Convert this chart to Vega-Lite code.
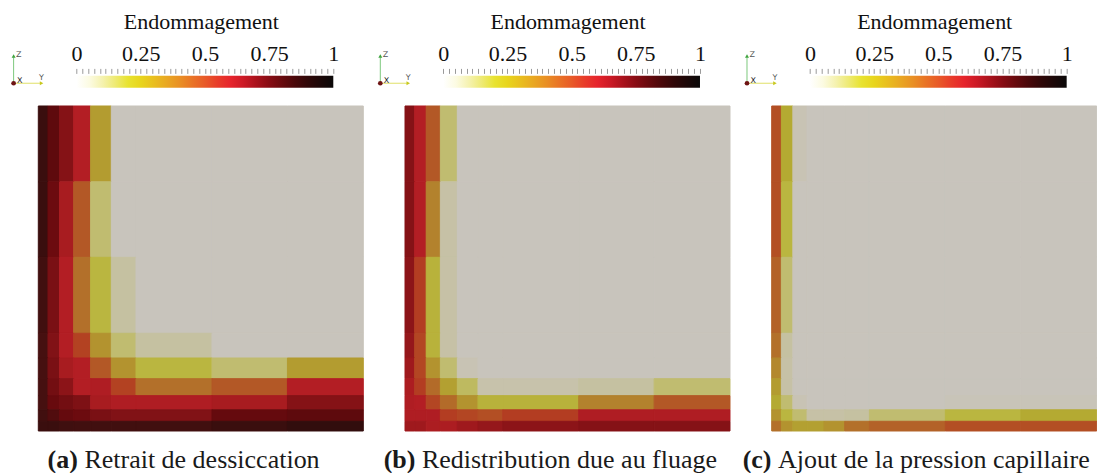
{
"$schema": "https://vega.github.io/schema/vega-lite/v6.json",
"padding": {"left": 10.3, "top": 10.7, "right": 0, "bottom": 0},
"background": "white",
"config": {"view": {"stroke": null}},
"datasets": {
"mesh": [{"k":1,"lo":0,"hi":1.49},{"k":2,"lo":1.49,"hi":3.26},{"k":3,"lo":3.26,"hi":5.44},{"k":4,"lo":5.44,"hi":8.05},{"k":5,"lo":8.05,"hi":11.23},{"k":6,"lo":11.23,"hi":15.03},{"k":7,"lo":15.03,"hi":26.72},{"k":8,"lo":26.72,"hi":38.33},{"k":9,"lo":38.33,"hi":50}],
"bar": [{"lo":0,"hi":1}],
"cells": [
{"p":"a","i":1,"j":9,"d":0.95},{"p":"a","i":2,"j":9,"d":0.83},{"p":"a","i":3,"j":9,"d":0.72},{"p":"a","i":4,"j":9,"d":0.58},{"p":"a","i":5,"j":9,"d":0.27},{"p":"a","i":6,"j":9,"d":0},{"p":"a","i":7,"j":9,"d":0},{"p":"a","i":8,"j":9,"d":0},{"p":"a","i":9,"j":9,"d":0},
{"p":"a","i":1,"j":8,"d":0.95},{"p":"a","i":2,"j":8,"d":0.79},{"p":"a","i":3,"j":8,"d":0.64},{"p":"a","i":4,"j":8,"d":0.40},{"p":"a","i":5,"j":8,"d":0.14},{"p":"a","i":6,"j":8,"d":0},{"p":"a","i":7,"j":8,"d":0},{"p":"a","i":8,"j":8,"d":0},{"p":"a","i":9,"j":8,"d":0},
{"p":"a","i":1,"j":7,"d":0.92},{"p":"a","i":2,"j":7,"d":0.75},{"p":"a","i":3,"j":7,"d":0.58},{"p":"a","i":4,"j":7,"d":0.35},{"p":"a","i":5,"j":7,"d":0.20},{"p":"a","i":6,"j":7,"d":0.06},{"p":"a","i":7,"j":7,"d":0},{"p":"a","i":8,"j":7,"d":0},{"p":"a","i":9,"j":7,"d":0},
{"p":"a","i":1,"j":6,"d":0.90},{"p":"a","i":2,"j":6,"d":0.73},{"p":"a","i":3,"j":6,"d":0.58},{"p":"a","i":4,"j":6,"d":0.45},{"p":"a","i":5,"j":6,"d":0.29},{"p":"a","i":6,"j":6,"d":0.14},{"p":"a","i":7,"j":6,"d":0.06},{"p":"a","i":8,"j":6,"d":0},{"p":"a","i":9,"j":6,"d":0},
{"p":"a","i":1,"j":5,"d":0.90},{"p":"a","i":2,"j":5,"d":0.75},{"p":"a","i":3,"j":5,"d":0.64},{"p":"a","i":4,"j":5,"d":0.58},{"p":"a","i":5,"j":5,"d":0.40},{"p":"a","i":6,"j":5,"d":0.29},{"p":"a","i":7,"j":5,"d":0.20},{"p":"a","i":8,"j":5,"d":0.14},{"p":"a","i":9,"j":5,"d":0.27},
{"p":"a","i":1,"j":4,"d":0.90},{"p":"a","i":2,"j":4,"d":0.77},{"p":"a","i":3,"j":4,"d":0.70},{"p":"a","i":4,"j":4,"d":0.58},{"p":"a","i":5,"j":4,"d":0.60},{"p":"a","i":6,"j":4,"d":0.45},{"p":"a","i":7,"j":4,"d":0.35},{"p":"a","i":8,"j":4,"d":0.40},{"p":"a","i":9,"j":4,"d":0.58},
{"p":"a","i":1,"j":3,"d":0.90},{"p":"a","i":2,"j":3,"d":0.80},{"p":"a","i":3,"j":3,"d":0.77},{"p":"a","i":4,"j":3,"d":0.74},{"p":"a","i":5,"j":3,"d":0.64},{"p":"a","i":6,"j":3,"d":0.60},{"p":"a","i":7,"j":3,"d":0.60},{"p":"a","i":8,"j":3,"d":0.64},{"p":"a","i":9,"j":3,"d":0.72},
{"p":"a","i":1,"j":2,"d":0.92},{"p":"a","i":2,"j":2,"d":0.87},{"p":"a","i":3,"j":2,"d":0.81},{"p":"a","i":4,"j":2,"d":0.79},{"p":"a","i":5,"j":2,"d":0.75},{"p":"a","i":6,"j":2,"d":0.73},{"p":"a","i":7,"j":2,"d":0.73},{"p":"a","i":8,"j":2,"d":0.81},{"p":"a","i":9,"j":2,"d":0.83},
{"p":"a","i":1,"j":1,"d":0.95},{"p":"a","i":2,"j":1,"d":0.95},{"p":"a","i":3,"j":1,"d":0.93},{"p":"a","i":4,"j":1,"d":0.92},{"p":"a","i":5,"j":1,"d":0.92},{"p":"a","i":6,"j":1,"d":0.92},{"p":"a","i":7,"j":1,"d":0.92},{"p":"a","i":8,"j":1,"d":0.95},{"p":"a","i":9,"j":1,"d":0.98},
{"p":"b","i":1,"j":9,"d":0.72},{"p":"b","i":2,"j":9,"d":0.58},{"p":"b","i":3,"j":9,"d":0.40},{"p":"b","i":4,"j":9,"d":0.14},{"p":"b","i":5,"j":9,"d":0},{"p":"b","i":6,"j":9,"d":0},{"p":"b","i":7,"j":9,"d":0},{"p":"b","i":8,"j":9,"d":0},{"p":"b","i":9,"j":9,"d":0},
{"p":"b","i":1,"j":8,"d":0.72},{"p":"b","i":2,"j":8,"d":0.58},{"p":"b","i":3,"j":8,"d":0.32},{"p":"b","i":4,"j":8,"d":0.05},{"p":"b","i":5,"j":8,"d":0},{"p":"b","i":6,"j":8,"d":0},{"p":"b","i":7,"j":8,"d":0},{"p":"b","i":8,"j":8,"d":0},{"p":"b","i":9,"j":8,"d":0},
{"p":"b","i":1,"j":7,"d":0.70},{"p":"b","i":2,"j":7,"d":0.47},{"p":"b","i":3,"j":7,"d":0.21},{"p":"b","i":4,"j":7,"d":0.05},{"p":"b","i":5,"j":7,"d":0},{"p":"b","i":6,"j":7,"d":0},{"p":"b","i":7,"j":7,"d":0},{"p":"b","i":8,"j":7,"d":0},{"p":"b","i":9,"j":7,"d":0},
{"p":"b","i":1,"j":6,"d":0.68},{"p":"b","i":2,"j":6,"d":0.44},{"p":"b","i":3,"j":6,"d":0.21},{"p":"b","i":4,"j":6,"d":0.05},{"p":"b","i":5,"j":6,"d":0},{"p":"b","i":6,"j":6,"d":0},{"p":"b","i":7,"j":6,"d":0},{"p":"b","i":8,"j":6,"d":0},{"p":"b","i":9,"j":6,"d":0},
{"p":"b","i":1,"j":5,"d":0.66},{"p":"b","i":2,"j":5,"d":0.44},{"p":"b","i":3,"j":5,"d":0.29},{"p":"b","i":4,"j":5,"d":0.14},{"p":"b","i":5,"j":5,"d":0.02},{"p":"b","i":6,"j":5,"d":0},{"p":"b","i":7,"j":5,"d":0},{"p":"b","i":8,"j":5,"d":0},{"p":"b","i":9,"j":5,"d":0},
{"p":"b","i":1,"j":4,"d":0.62},{"p":"b","i":2,"j":4,"d":0.47},{"p":"b","i":3,"j":4,"d":0.36},{"p":"b","i":4,"j":4,"d":0.26},{"p":"b","i":5,"j":4,"d":0.16},{"p":"b","i":6,"j":4,"d":0.04},{"p":"b","i":7,"j":4,"d":0.04},{"p":"b","i":8,"j":4,"d":0.06},{"p":"b","i":9,"j":4,"d":0.14},
{"p":"b","i":1,"j":3,"d":0.60},{"p":"b","i":2,"j":3,"d":0.58},{"p":"b","i":3,"j":3,"d":0.44},{"p":"b","i":4,"j":3,"d":0.36},{"p":"b","i":5,"j":3,"d":0.29},{"p":"b","i":6,"j":3,"d":0.21},{"p":"b","i":7,"j":3,"d":0.21},{"p":"b","i":8,"j":3,"d":0.32},{"p":"b","i":9,"j":3,"d":0.40},
{"p":"b","i":1,"j":2,"d":0.60},{"p":"b","i":2,"j":2,"d":0.60},{"p":"b","i":3,"j":2,"d":0.60},{"p":"b","i":4,"j":2,"d":0.47},{"p":"b","i":5,"j":2,"d":0.44},{"p":"b","i":6,"j":2,"d":0.42},{"p":"b","i":7,"j":2,"d":0.47},{"p":"b","i":8,"j":2,"d":0.60},{"p":"b","i":9,"j":2,"d":0.60},
{"p":"b","i":1,"j":1,"d":0.66},{"p":"b","i":2,"j":1,"d":0.66},{"p":"b","i":3,"j":1,"d":0.62},{"p":"b","i":4,"j":1,"d":0.62},{"p":"b","i":5,"j":1,"d":0.66},{"p":"b","i":6,"j":1,"d":0.68},{"p":"b","i":7,"j":1,"d":0.70},{"p":"b","i":8,"j":1,"d":0.72},{"p":"b","i":9,"j":1,"d":0.72},
{"p":"c","i":1,"j":9,"d":0.42},{"p":"c","i":2,"j":9,"d":0.23},{"p":"c","i":3,"j":9,"d":0.02},{"p":"c","i":4,"j":9,"d":0},{"p":"c","i":5,"j":9,"d":0},{"p":"c","i":6,"j":9,"d":0},{"p":"c","i":7,"j":9,"d":0},{"p":"c","i":8,"j":9,"d":0},{"p":"c","i":9,"j":9,"d":0},
{"p":"c","i":1,"j":8,"d":0.42},{"p":"c","i":2,"j":8,"d":0.20},{"p":"c","i":3,"j":8,"d":0},{"p":"c","i":4,"j":8,"d":0},{"p":"c","i":5,"j":8,"d":0},{"p":"c","i":6,"j":8,"d":0},{"p":"c","i":7,"j":8,"d":0},{"p":"c","i":8,"j":8,"d":0},{"p":"c","i":9,"j":8,"d":0},
{"p":"c","i":1,"j":7,"d":0.38},{"p":"c","i":2,"j":7,"d":0.14},{"p":"c","i":3,"j":7,"d":0},{"p":"c","i":4,"j":7,"d":0},{"p":"c","i":5,"j":7,"d":0},{"p":"c","i":6,"j":7,"d":0},{"p":"c","i":7,"j":7,"d":0},{"p":"c","i":8,"j":7,"d":0},{"p":"c","i":9,"j":7,"d":0},
{"p":"c","i":1,"j":6,"d":0.35},{"p":"c","i":2,"j":6,"d":0.06},{"p":"c","i":3,"j":6,"d":0},{"p":"c","i":4,"j":6,"d":0},{"p":"c","i":5,"j":6,"d":0},{"p":"c","i":6,"j":6,"d":0},{"p":"c","i":7,"j":6,"d":0},{"p":"c","i":8,"j":6,"d":0},{"p":"c","i":9,"j":6,"d":0},
{"p":"c","i":1,"j":5,"d":0.31},{"p":"c","i":2,"j":5,"d":0.05},{"p":"c","i":3,"j":5,"d":0},{"p":"c","i":4,"j":5,"d":0},{"p":"c","i":5,"j":5,"d":0},{"p":"c","i":6,"j":5,"d":0},{"p":"c","i":7,"j":5,"d":0},{"p":"c","i":8,"j":5,"d":0},{"p":"c","i":9,"j":5,"d":0},
{"p":"c","i":1,"j":4,"d":0.27},{"p":"c","i":2,"j":4,"d":0.05},{"p":"c","i":3,"j":4,"d":0},{"p":"c","i":4,"j":4,"d":0},{"p":"c","i":5,"j":4,"d":0},{"p":"c","i":6,"j":4,"d":0},{"p":"c","i":7,"j":4,"d":0},{"p":"c","i":8,"j":4,"d":0},{"p":"c","i":9,"j":4,"d":0},
{"p":"c","i":1,"j":3,"d":0.23},{"p":"c","i":2,"j":3,"d":0.14},{"p":"c","i":3,"j":3,"d":0.02},{"p":"c","i":4,"j":3,"d":0},{"p":"c","i":5,"j":3,"d":0},{"p":"c","i":6,"j":3,"d":0},{"p":"c","i":7,"j":3,"d":0},{"p":"c","i":8,"j":3,"d":0.01},{"p":"c","i":9,"j":3,"d":0.01},
{"p":"c","i":1,"j":2,"d":0.29},{"p":"c","i":2,"j":2,"d":0.20},{"p":"c","i":3,"j":2,"d":0.14},{"p":"c","i":4,"j":2,"d":0.05},{"p":"c","i":5,"j":2,"d":0.05},{"p":"c","i":6,"j":2,"d":0.06},{"p":"c","i":7,"j":2,"d":0.14},{"p":"c","i":8,"j":2,"d":0.20},{"p":"c","i":9,"j":2,"d":0.23},
{"p":"c","i":1,"j":1,"d":0.35},{"p":"c","i":2,"j":1,"d":0.29},{"p":"c","i":3,"j":1,"d":0.26},{"p":"c","i":4,"j":1,"d":0.26},{"p":"c","i":5,"j":1,"d":0.29},{"p":"c","i":6,"j":1,"d":0.35},{"p":"c","i":7,"j":1,"d":0.38},{"p":"c","i":8,"j":1,"d":0.42},{"p":"c","i":9,"j":1,"d":0.42}
]
},
"bounds": "flush",
"columns": 3,
"spacing": {"row": 18.3, "column": 41.7},
"resolve": {"scale": {"x": "independent", "y": "independent"}},
"concat": [
{
"width": 325, "height": 12,
"data": {"name": "bar"},
"mark": {"type": "rect", "fill": {"gradient": "linear", "x1": 0, "y1": 0, "x2": 1, "y2": 0, "stops": [{"offset":0,"color":"#ffffff"},{"offset":0.05,"color":"#fcfbe2"},{"offset":0.1,"color":"#f5f2b0"},{"offset":0.15,"color":"#eeea74"},{"offset":0.2,"color":"#e8e330"},{"offset":0.25,"color":"#e8d51c"},{"offset":0.3,"color":"#e9bf1e"},{"offset":0.35,"color":"#e9a822"},{"offset":0.4,"color":"#e99024"},{"offset":0.45,"color":"#e97426"},{"offset":0.5,"color":"#e85a28"},{"offset":0.55,"color":"#e83c2a"},{"offset":0.6,"color":"#e6242c"},{"offset":0.65,"color":"#cc1a26"},{"offset":0.7,"color":"#aa121c"},{"offset":0.75,"color":"#880c14"},{"offset":0.8,"color":"#680a0e"},{"offset":0.85,"color":"#4a080a"},{"offset":0.9,"color":"#300808"},{"offset":0.95,"color":"#1c0808"},{"offset":1,"color":"#0a0808"}]}},
"encoding": {
"x": {"field": "lo", "type": "quantitative", "scale": {"domain": [-0.1492, 1.1169], "nice": false, "zero": false},
"axis": {"orient": "top", "values": [0,0.022727,0.045455,0.068182,0.090909,0.113636,0.136364,0.159091,0.181818,0.204545,0.227273,0.25,0.272727,0.295455,0.318182,0.340909,0.363636,0.386364,0.409091,0.431818,0.454545,0.477273,0.5,0.522727,0.545455,0.568182,0.590909,0.613636,0.636364,0.659091,0.681818,0.704545,0.727273,0.75,0.772727,0.795455,0.818182,0.840909,0.863636,0.886364,0.909091,0.931818,0.954545,0.977273,1],
"labelExpr": "abs(datum.value*4-round(datum.value*4))<0.001 ? format(datum.value,'~g') : ''",
"labelOverlap": false, "labelFlush": false, "labelFont": "Liberation Serif, Times New Roman, serif", "labelFontSize": 22, "labelColor": "#111111", "labelBaseline": "alphabetic", "labelPadding": 8.2,
"tickSize": 5, "tickColor": "#9a9a9a", "tickWidth": 1, "domain": false, "grid": false, "offset": 2.3,
"title": "Endommagement", "titleFont": "Liberation Serif, Times New Roman, serif", "titleFontSize": 22, "titleFontWeight": "normal", "titleColor": "#111111", "titlePadding": 13.5, "titleBaseline": "alphabetic"}},
"x2": {"field": "hi"}
}
},
{
"width": 325, "height": 12,
"data": {"name": "bar"},
"mark": {"type": "rect", "fill": {"gradient": "linear", "x1": 0, "y1": 0, "x2": 1, "y2": 0, "stops": [{"offset":0,"color":"#ffffff"},{"offset":0.05,"color":"#fcfbe2"},{"offset":0.1,"color":"#f5f2b0"},{"offset":0.15,"color":"#eeea74"},{"offset":0.2,"color":"#e8e330"},{"offset":0.25,"color":"#e8d51c"},{"offset":0.3,"color":"#e9bf1e"},{"offset":0.35,"color":"#e9a822"},{"offset":0.4,"color":"#e99024"},{"offset":0.45,"color":"#e97426"},{"offset":0.5,"color":"#e85a28"},{"offset":0.55,"color":"#e83c2a"},{"offset":0.6,"color":"#e6242c"},{"offset":0.65,"color":"#cc1a26"},{"offset":0.7,"color":"#aa121c"},{"offset":0.75,"color":"#880c14"},{"offset":0.8,"color":"#680a0e"},{"offset":0.85,"color":"#4a080a"},{"offset":0.9,"color":"#300808"},{"offset":0.95,"color":"#1c0808"},{"offset":1,"color":"#0a0808"}]}},
"encoding": {
"x": {"field": "lo", "type": "quantitative", "scale": {"domain": [-0.1492, 1.1169], "nice": false, "zero": false},
"axis": {"orient": "top", "values": [0,0.022727,0.045455,0.068182,0.090909,0.113636,0.136364,0.159091,0.181818,0.204545,0.227273,0.25,0.272727,0.295455,0.318182,0.340909,0.363636,0.386364,0.409091,0.431818,0.454545,0.477273,0.5,0.522727,0.545455,0.568182,0.590909,0.613636,0.636364,0.659091,0.681818,0.704545,0.727273,0.75,0.772727,0.795455,0.818182,0.840909,0.863636,0.886364,0.909091,0.931818,0.954545,0.977273,1],
"labelExpr": "abs(datum.value*4-round(datum.value*4))<0.001 ? format(datum.value,'~g') : ''",
"labelOverlap": false, "labelFlush": false, "labelFont": "Liberation Serif, Times New Roman, serif", "labelFontSize": 22, "labelColor": "#111111", "labelBaseline": "alphabetic", "labelPadding": 8.2,
"tickSize": 5, "tickColor": "#9a9a9a", "tickWidth": 1, "domain": false, "grid": false, "offset": 2.3,
"title": "Endommagement", "titleFont": "Liberation Serif, Times New Roman, serif", "titleFontSize": 22, "titleFontWeight": "normal", "titleColor": "#111111", "titlePadding": 13.5, "titleBaseline": "alphabetic"}},
"x2": {"field": "hi"}
}
},
{
"width": 325, "height": 12,
"data": {"name": "bar"},
"mark": {"type": "rect", "fill": {"gradient": "linear", "x1": 0, "y1": 0, "x2": 1, "y2": 0, "stops": [{"offset":0,"color":"#ffffff"},{"offset":0.05,"color":"#fcfbe2"},{"offset":0.1,"color":"#f5f2b0"},{"offset":0.15,"color":"#eeea74"},{"offset":0.2,"color":"#e8e330"},{"offset":0.25,"color":"#e8d51c"},{"offset":0.3,"color":"#e9bf1e"},{"offset":0.35,"color":"#e9a822"},{"offset":0.4,"color":"#e99024"},{"offset":0.45,"color":"#e97426"},{"offset":0.5,"color":"#e85a28"},{"offset":0.55,"color":"#e83c2a"},{"offset":0.6,"color":"#e6242c"},{"offset":0.65,"color":"#cc1a26"},{"offset":0.7,"color":"#aa121c"},{"offset":0.75,"color":"#880c14"},{"offset":0.8,"color":"#680a0e"},{"offset":0.85,"color":"#4a080a"},{"offset":0.9,"color":"#300808"},{"offset":0.95,"color":"#1c0808"},{"offset":1,"color":"#0a0808"}]}},
"encoding": {
"x": {"field": "lo", "type": "quantitative", "scale": {"domain": [-0.1492, 1.1169], "nice": false, "zero": false},
"axis": {"orient": "top", "values": [0,0.022727,0.045455,0.068182,0.090909,0.113636,0.136364,0.159091,0.181818,0.204545,0.227273,0.25,0.272727,0.295455,0.318182,0.340909,0.363636,0.386364,0.409091,0.431818,0.454545,0.477273,0.5,0.522727,0.545455,0.568182,0.590909,0.613636,0.636364,0.659091,0.681818,0.704545,0.727273,0.75,0.772727,0.795455,0.818182,0.840909,0.863636,0.886364,0.909091,0.931818,0.954545,0.977273,1],
"labelExpr": "abs(datum.value*4-round(datum.value*4))<0.001 ? format(datum.value,'~g') : ''",
"labelOverlap": false, "labelFlush": false, "labelFont": "Liberation Serif, Times New Roman, serif", "labelFontSize": 22, "labelColor": "#111111", "labelBaseline": "alphabetic", "labelPadding": 8.2,
"tickSize": 5, "tickColor": "#9a9a9a", "tickWidth": 1, "domain": false, "grid": false, "offset": 2.3,
"title": "Endommagement", "titleFont": "Liberation Serif, Times New Roman, serif", "titleFontSize": 22, "titleFontWeight": "normal", "titleColor": "#111111", "titlePadding": 13.5, "titleBaseline": "alphabetic"}},
"x2": {"field": "hi"}
}
},
{
"width": 325, "height": 325,
"data": {"name": "cells"},
"layer": [
{
"transform": [{"filter": "datum.p == 'a'"},
{"lookup": "i", "from": {"data": {"name": "mesh"}, "key": "k", "fields": ["lo", "hi"]}, "as": ["x0", "x1"]},
{"lookup": "j", "from": {"data": {"name": "mesh"}, "key": "k", "fields": ["lo", "hi"]}, "as": ["y0", "y1"]}],
"mark": {"type": "rect", "strokeWidth": 1},
"encoding": {
"x": {"field": "x0", "type": "quantitative", "scale": {"domain": [0, 50], "nice": false, "zero": false}, "axis": null},
"x2": {"field": "x1"},
"y": {"field": "y0", "type": "quantitative", "scale": {"domain": [0, 50], "nice": false, "zero": false}, "axis": null},
"y2": {"field": "y1"},
"fill": {"field": "d", "type": "quantitative", "legend": null, "scale": {"type": "linear", "interpolate": "rgb", "domain": [0,0.02,0.05,0.1,0.14,0.2,0.23,0.27,0.3,0.35,0.4,0.45,0.5,0.58,0.64,0.7,0.75,0.8,0.85,0.9,0.95,1], "range": ["#c8c4bc","#c8c3b4","#c6c1a6","#c3bf8c","#c0bc70","#bab640","#b4aa32","#b39c30","#b38e2f","#b3702a","#b35826","#b34222","#b33522","#b31e24","#a81c20","#8c1418","#7a1014","#680a0e","#580a0c","#461010","#3a0e0e","#2c0c0c"]}},
"stroke": {"field": "d", "type": "quantitative", "legend": null, "scale": {"type": "linear", "interpolate": "rgb", "domain": [0,0.02,0.05,0.1,0.14,0.2,0.23,0.27,0.3,0.35,0.4,0.45,0.5,0.58,0.64,0.7,0.75,0.8,0.85,0.9,0.95,1], "range": ["#c8c4bc","#c8c3b4","#c6c1a6","#c3bf8c","#c0bc70","#bab640","#b4aa32","#b39c30","#b38e2f","#b3702a","#b35826","#b34222","#b33522","#b31e24","#a81c20","#8c1418","#7a1014","#680a0e","#580a0c","#461010","#3a0e0e","#2c0c0c"]}}
}
},
{"data": {"values": [{"tag": "(a)", "cap": "Retrait de dessiccation"}]},
"mark": {"type": "text", "align": "right", "baseline": "alphabetic", "font": "Liberation Serif, Times New Roman, serif", "fontSize": 26, "fontWeight": "bold", "color": "#1a1a1a"},
"encoding": {"x": {"datum": 6.09}, "y": {"datum": -5.75}, "text": {"field": "tag"}}},
{"data": {"values": [{"tag": "(a)", "cap": "Retrait de dessiccation"}]},
"mark": {"type": "text", "align": "left", "baseline": "alphabetic", "dx": 6.5, "font": "Liberation Serif, Times New Roman, serif", "fontSize": 26, "fontWeight": "normal", "color": "#1a1a1a"},
"encoding": {"x": {"datum": 6.09}, "y": {"datum": -5.75}, "text": {"field": "cap"}}},
{"data": {"values": [{}]}, "mark": {"type": "rule", "color": "#7cc87c", "strokeWidth": 1}, "encoding": {"x": {"datum": -3.8}, "y": {"datum": 53.5}, "y2": {"datum": 57.5}}},
{"data": {"values": [{}]}, "mark": {"type": "rule", "color": "#e0e066", "strokeWidth": 1}, "encoding": {"x": {"datum": -3.8}, "x2": {"datum": 0.4}, "y": {"datum": 53.5}}},
{"data": {"values": [{}]}, "mark": {"type": "point", "shape": "triangle-up", "filled": true, "size": 16, "color": "#3fa33f", "opacity": 1}, "encoding": {"x": {"datum": -3.8}, "y": {"datum": 57.7}}},
{"data": {"values": [{}]}, "mark": {"type": "point", "shape": "triangle-right", "filled": true, "size": 16, "color": "#c8c81e", "opacity": 1}, "encoding": {"x": {"datum": 0.5}, "y": {"datum": 53.5}}},
{"data": {"values": [{}]}, "mark": {"type": "point", "shape": "circle", "filled": true, "size": 22, "color": "#6e1414", "opacity": 1}, "encoding": {"x": {"datum": -3.8}, "y": {"datum": 53.5}}},
{"data": {"values": [{"t": "Z"}]}, "mark": {"type": "text", "align": "left", "baseline": "middle", "font": "DejaVu Sans", "fontSize": 8, "color": "#555555"}, "encoding": {"x": {"datum": -3.42}, "y": {"datum": 57.8}, "text": {"field": "t"}}},
{"data": {"values": [{"t": "X"}]}, "mark": {"type": "text", "align": "left", "baseline": "middle", "font": "DejaVu Sans", "fontSize": 8, "color": "#222222"}, "encoding": {"x": {"datum": -3.26}, "y": {"datum": 53.9}, "text": {"field": "t"}}},
{"data": {"values": [{"t": "Y"}]}, "mark": {"type": "text", "align": "left", "baseline": "middle", "font": "DejaVu Sans", "fontSize": 8, "color": "#555555"}, "encoding": {"x": {"datum": 0.12}, "y": {"datum": 54.3}, "text": {"field": "t"}}}
]
},
{
"width": 325, "height": 325,
"data": {"name": "cells"},
"layer": [
{
"transform": [{"filter": "datum.p == 'b'"},
{"lookup": "i", "from": {"data": {"name": "mesh"}, "key": "k", "fields": ["lo", "hi"]}, "as": ["x0", "x1"]},
{"lookup": "j", "from": {"data": {"name": "mesh"}, "key": "k", "fields": ["lo", "hi"]}, "as": ["y0", "y1"]}],
"mark": {"type": "rect", "strokeWidth": 1},
"encoding": {
"x": {"field": "x0", "type": "quantitative", "scale": {"domain": [0, 50], "nice": false, "zero": false}, "axis": null},
"x2": {"field": "x1"},
"y": {"field": "y0", "type": "quantitative", "scale": {"domain": [0, 50], "nice": false, "zero": false}, "axis": null},
"y2": {"field": "y1"},
"fill": {"field": "d", "type": "quantitative", "legend": null, "scale": {"type": "linear", "interpolate": "rgb", "domain": [0,0.02,0.05,0.1,0.14,0.2,0.23,0.27,0.3,0.35,0.4,0.45,0.5,0.58,0.64,0.7,0.75,0.8,0.85,0.9,0.95,1], "range": ["#c8c4bc","#c8c3b4","#c6c1a6","#c3bf8c","#c0bc70","#bab640","#b4aa32","#b39c30","#b38e2f","#b3702a","#b35826","#b34222","#b33522","#b31e24","#a81c20","#8c1418","#7a1014","#680a0e","#580a0c","#461010","#3a0e0e","#2c0c0c"]}},
"stroke": {"field": "d", "type": "quantitative", "legend": null, "scale": {"type": "linear", "interpolate": "rgb", "domain": [0,0.02,0.05,0.1,0.14,0.2,0.23,0.27,0.3,0.35,0.4,0.45,0.5,0.58,0.64,0.7,0.75,0.8,0.85,0.9,0.95,1], "range": ["#c8c4bc","#c8c3b4","#c6c1a6","#c3bf8c","#c0bc70","#bab640","#b4aa32","#b39c30","#b38e2f","#b3702a","#b35826","#b34222","#b33522","#b31e24","#a81c20","#8c1418","#7a1014","#680a0e","#580a0c","#461010","#3a0e0e","#2c0c0c"]}}
}
},
{"data": {"values": [{"tag": "(b)", "cap": "Redistribution due au fluage"}]},
"mark": {"type": "text", "align": "right", "baseline": "alphabetic", "font": "Liberation Serif, Times New Roman, serif", "fontSize": 26, "fontWeight": "bold", "color": "#1a1a1a"},
"encoding": {"x": {"datum": 1.6}, "y": {"datum": -5.75}, "text": {"field": "tag"}}},
{"data": {"values": [{"tag": "(b)", "cap": "Redistribution due au fluage"}]},
"mark": {"type": "text", "align": "left", "baseline": "alphabetic", "dx": 6.5, "font": "Liberation Serif, Times New Roman, serif", "fontSize": 26, "fontWeight": "normal", "color": "#1a1a1a"},
"encoding": {"x": {"datum": 1.6}, "y": {"datum": -5.75}, "text": {"field": "cap"}}},
{"data": {"values": [{}]}, "mark": {"type": "rule", "color": "#7cc87c", "strokeWidth": 1}, "encoding": {"x": {"datum": -3.8}, "y": {"datum": 53.5}, "y2": {"datum": 57.5}}},
{"data": {"values": [{}]}, "mark": {"type": "rule", "color": "#e0e066", "strokeWidth": 1}, "encoding": {"x": {"datum": -3.8}, "x2": {"datum": 0.4}, "y": {"datum": 53.5}}},
{"data": {"values": [{}]}, "mark": {"type": "point", "shape": "triangle-up", "filled": true, "size": 16, "color": "#3fa33f", "opacity": 1}, "encoding": {"x": {"datum": -3.8}, "y": {"datum": 57.7}}},
{"data": {"values": [{}]}, "mark": {"type": "point", "shape": "triangle-right", "filled": true, "size": 16, "color": "#c8c81e", "opacity": 1}, "encoding": {"x": {"datum": 0.5}, "y": {"datum": 53.5}}},
{"data": {"values": [{}]}, "mark": {"type": "point", "shape": "circle", "filled": true, "size": 22, "color": "#6e1414", "opacity": 1}, "encoding": {"x": {"datum": -3.8}, "y": {"datum": 53.5}}},
{"data": {"values": [{"t": "Z"}]}, "mark": {"type": "text", "align": "left", "baseline": "middle", "font": "DejaVu Sans", "fontSize": 8, "color": "#555555"}, "encoding": {"x": {"datum": -3.42}, "y": {"datum": 57.8}, "text": {"field": "t"}}},
{"data": {"values": [{"t": "X"}]}, "mark": {"type": "text", "align": "left", "baseline": "middle", "font": "DejaVu Sans", "fontSize": 8, "color": "#222222"}, "encoding": {"x": {"datum": -3.26}, "y": {"datum": 53.9}, "text": {"field": "t"}}},
{"data": {"values": [{"t": "Y"}]}, "mark": {"type": "text", "align": "left", "baseline": "middle", "font": "DejaVu Sans", "fontSize": 8, "color": "#555555"}, "encoding": {"x": {"datum": 0.12}, "y": {"datum": 54.3}, "text": {"field": "t"}}}
]
},
{
"width": 325, "height": 325,
"data": {"name": "cells"},
"layer": [
{
"transform": [{"filter": "datum.p == 'c'"},
{"lookup": "i", "from": {"data": {"name": "mesh"}, "key": "k", "fields": ["lo", "hi"]}, "as": ["x0", "x1"]},
{"lookup": "j", "from": {"data": {"name": "mesh"}, "key": "k", "fields": ["lo", "hi"]}, "as": ["y0", "y1"]}],
"mark": {"type": "rect", "strokeWidth": 1},
"encoding": {
"x": {"field": "x0", "type": "quantitative", "scale": {"domain": [0, 50], "nice": false, "zero": false}, "axis": null},
"x2": {"field": "x1"},
"y": {"field": "y0", "type": "quantitative", "scale": {"domain": [0, 50], "nice": false, "zero": false}, "axis": null},
"y2": {"field": "y1"},
"fill": {"field": "d", "type": "quantitative", "legend": null, "scale": {"type": "linear", "interpolate": "rgb", "domain": [0,0.02,0.05,0.1,0.14,0.2,0.23,0.27,0.3,0.35,0.4,0.45,0.5,0.58,0.64,0.7,0.75,0.8,0.85,0.9,0.95,1], "range": ["#c8c4bc","#c8c3b4","#c6c1a6","#c3bf8c","#c0bc70","#bab640","#b4aa32","#b39c30","#b38e2f","#b3702a","#b35826","#b34222","#b33522","#b31e24","#a81c20","#8c1418","#7a1014","#680a0e","#580a0c","#461010","#3a0e0e","#2c0c0c"]}},
"stroke": {"field": "d", "type": "quantitative", "legend": null, "scale": {"type": "linear", "interpolate": "rgb", "domain": [0,0.02,0.05,0.1,0.14,0.2,0.23,0.27,0.3,0.35,0.4,0.45,0.5,0.58,0.64,0.7,0.75,0.8,0.85,0.9,0.95,1], "range": ["#c8c4bc","#c8c3b4","#c6c1a6","#c3bf8c","#c0bc70","#bab640","#b4aa32","#b39c30","#b38e2f","#b3702a","#b35826","#b34222","#b33522","#b31e24","#a81c20","#8c1418","#7a1014","#680a0e","#580a0c","#461010","#3a0e0e","#2c0c0c"]}}
}
},
{"data": {"values": [{"tag": "(c)", "cap": "Ajout de la pression capillaire"}]},
"mark": {"type": "text", "align": "right", "baseline": "alphabetic", "font": "Liberation Serif, Times New Roman, serif", "fontSize": 26, "fontWeight": "bold", "color": "#1a1a1a"},
"encoding": {"x": {"datum": -0.03}, "y": {"datum": -5.75}, "text": {"field": "tag"}}},
{"data": {"values": [{"tag": "(c)", "cap": "Ajout de la pression capillaire"}]},
"mark": {"type": "text", "align": "left", "baseline": "alphabetic", "dx": 6.5, "font": "Liberation Serif, Times New Roman, serif", "fontSize": 26, "fontWeight": "normal", "color": "#1a1a1a"},
"encoding": {"x": {"datum": -0.03}, "y": {"datum": -5.75}, "text": {"field": "cap"}}},
{"data": {"values": [{}]}, "mark": {"type": "rule", "color": "#7cc87c", "strokeWidth": 1}, "encoding": {"x": {"datum": -3.8}, "y": {"datum": 53.5}, "y2": {"datum": 57.5}}},
{"data": {"values": [{}]}, "mark": {"type": "rule", "color": "#e0e066", "strokeWidth": 1}, "encoding": {"x": {"datum": -3.8}, "x2": {"datum": 0.4}, "y": {"datum": 53.5}}},
{"data": {"values": [{}]}, "mark": {"type": "point", "shape": "triangle-up", "filled": true, "size": 16, "color": "#3fa33f", "opacity": 1}, "encoding": {"x": {"datum": -3.8}, "y": {"datum": 57.7}}},
{"data": {"values": [{}]}, "mark": {"type": "point", "shape": "triangle-right", "filled": true, "size": 16, "color": "#c8c81e", "opacity": 1}, "encoding": {"x": {"datum": 0.5}, "y": {"datum": 53.5}}},
{"data": {"values": [{}]}, "mark": {"type": "point", "shape": "circle", "filled": true, "size": 22, "color": "#6e1414", "opacity": 1}, "encoding": {"x": {"datum": -3.8}, "y": {"datum": 53.5}}},
{"data": {"values": [{"t": "Z"}]}, "mark": {"type": "text", "align": "left", "baseline": "middle", "font": "DejaVu Sans", "fontSize": 8, "color": "#555555"}, "encoding": {"x": {"datum": -3.42}, "y": {"datum": 57.8}, "text": {"field": "t"}}},
{"data": {"values": [{"t": "X"}]}, "mark": {"type": "text", "align": "left", "baseline": "middle", "font": "DejaVu Sans", "fontSize": 8, "color": "#222222"}, "encoding": {"x": {"datum": -3.26}, "y": {"datum": 53.9}, "text": {"field": "t"}}},
{"data": {"values": [{"t": "Y"}]}, "mark": {"type": "text", "align": "left", "baseline": "middle", "font": "DejaVu Sans", "fontSize": 8, "color": "#555555"}, "encoding": {"x": {"datum": 0.12}, "y": {"datum": 54.3}, "text": {"field": "t"}}}
]
}
]
}
